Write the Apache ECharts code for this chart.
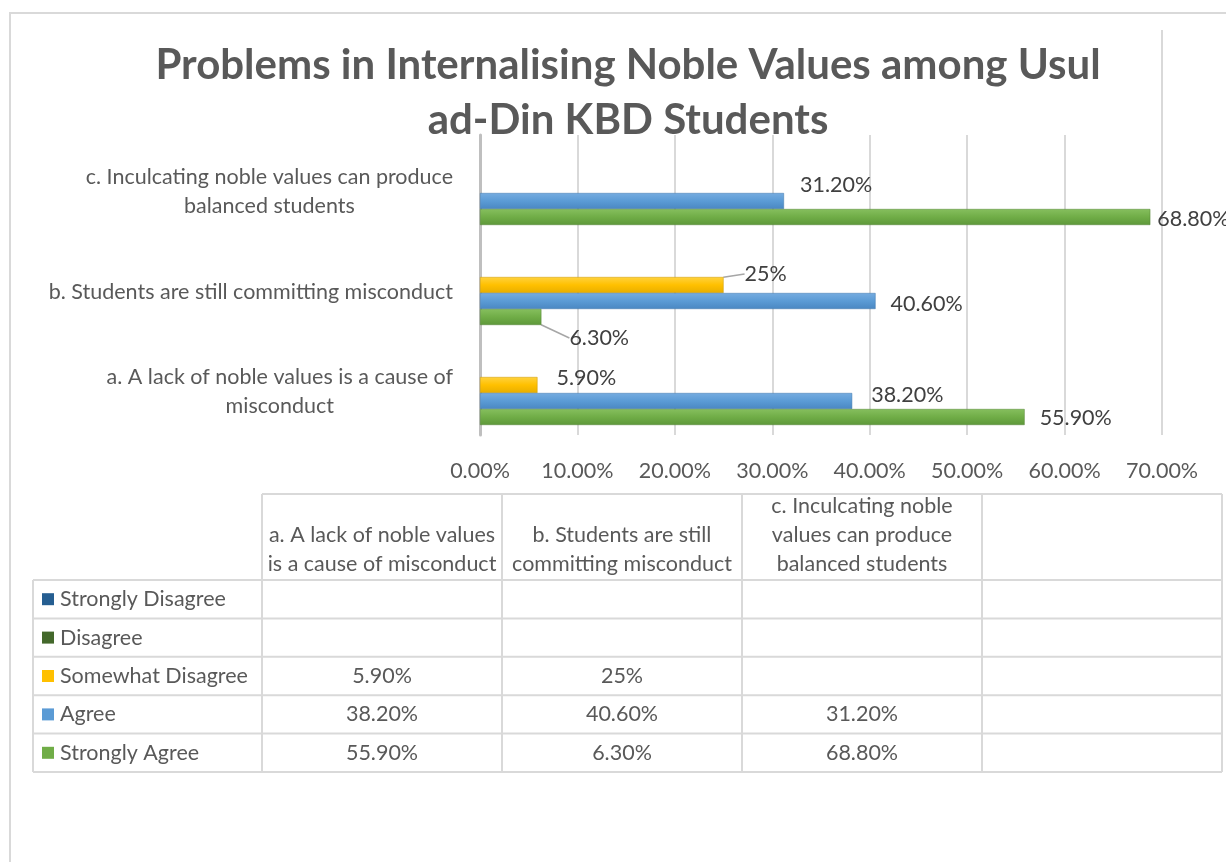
<!DOCTYPE html>
<html>
<head>
<meta charset="utf-8">
<script src="https://cdn.jsdelivr.net/npm/echarts@6/dist/echarts.min.js"></script>
<style>
  html, body { margin: 0; padding: 0; background: #fff; }
  #chart { width: 1226px; height: 862px; }
</style>
</head>
<body>
<div id="chart"></div>
<script>
// ---------- data ----------
const categories = [
  'a. A lack of noble values is a cause of misconduct',
  'b. Students are still committing misconduct',
  'c. Inculcating noble values can produce balanced students'
];
const axisCategoryLabels = [
  'a. A lack of noble values is a cause of\nmisconduct',
  'b. Students are still committing misconduct',
  'c. Inculcating noble values can produce\nbalanced students'
];
const tableHeaderLabels = [
  'a. A lack of noble values\nis a cause of misconduct',
  'b. Students are still\ncommitting misconduct',
  'c. Inculcating noble\nvalues can produce\nbalanced students'
];
const seriesNames = ['Strongly Disagree', 'Disagree', 'Somewhat Disagree', 'Agree', 'Strongly Agree'];
const stronglyDisagree = [null, null, null];
const disagree = [null, null, null];
const somewhatDisagree = [5.9, 25, null];
const agree = [38.2, 40.6, 31.2];
const stronglyAgree = [55.9, 6.3, 68.8];
const valueTicks = [0, 10, 20, 30, 40, 50, 60, 70];

// ---------- styling ----------
const FONT = 'Lato, "Open Sans", sans-serif';
const FS = 21.5;
const TXT = '#595959';
const LBL = '#404040';
const GRIDC = '#d9d9d9';
const seriesColors = ['#255e91', '#43682b', '#ffc000', '#5b9bd5', '#70ad47'];
const gradients = [
  ['#2f6ea8', '#255e91', '#1e4f7b'],
  ['#4f7a33', '#43682b', '#385823'],
  ['#ffd23f', '#ffc000', '#e8ae00'],
  ['#76ace0', '#5b9bd5', '#4a87c2'],
  ['#86bf5e', '#70ad47', '#5e983a']
];
const borderCols = ['#1b4870', '#33501f', '#c99700', '#3f77ab', '#528234'];
// label shifts (seriesIndex-dataIndex) -> [dx, dy], leader lines for some
const labelShift = {
  '2-0': [14, -7], '2-1': [16, -11],
  '3-0': [14, -6], '3-1': [10, 3], '3-2': [11, -16],
  '4-0': [10, 1], '4-1': [23, 21], '4-2': [2, 2]
};
const leaderItems = { '2-1': true, '4-1': true };

function fmtPct(v) {
  if (v === null || v === undefined) return '';
  return Number.isInteger(v) ? v + '%' : v.toFixed(2) + '%';
}

const allValues = [stronglyDisagree, disagree, somewhatDisagree, agree, stronglyAgree];

const series = allValues.map((vals, si) => ({
  name: seriesNames[si],
  type: 'bar',
  barGap: '0%',
  barCategoryGap: '20%',
  data: vals.map((v, di) => ({
    value: v,
    labelLine: { show: !!leaderItems[si + '-' + di] }
  })),
  itemStyle: {
    color: {
      type: 'linear', x: 0, y: 0, x2: 0, y2: 1,
      colorStops: [
        { offset: 0, color: gradients[si][0] },
        { offset: 0.5, color: gradients[si][1] },
        { offset: 1, color: gradients[si][2] }
      ]
    },
    borderColor: borderCols[si],
    borderWidth: 0.5
  },
  label: {
    show: true,
    position: 'right',
    distance: 5,
    fontFamily: FONT,
    fontSize: FS,
    color: LBL,
    formatter: (p) => fmtPct(p.value)
  },
  labelLine: {
    show: false,
    lineStyle: { color: '#a6a6a6', width: 1.5 }
  },
  labelLayout: (p) => {
    const s = labelShift[p.seriesIndex + '-' + p.dataIndex];
    return s ? { dx: s[0], dy: s[1] } : {};
  }
}));

// ---------- table (data table under the chart) ----------
const T = {
  left: 33, colX: [262, 502, 742, 982, 1222],
  headTop: 494, rowTop: 580, rowH: 38.4
};
const graphic = [];
// outer chart border
graphic.push({ type: 'rect', shape: { x: 10, y: 13, width: 1240, height: 870 },
  style: { fill: 'none', stroke: GRIDC, lineWidth: 2 }, silent: true, z: -1 });
// extended back-wall line at 70%
graphic.push({ type: 'line', shape: { x1: 1162, y1: 30, x2: 1162, y2: 135 },
  style: { stroke: GRIDC, lineWidth: 2 }, silent: true });

const nRows = seriesNames.length;
const tableBottom = T.rowTop + nRows * T.rowH;
function hline(x1, x2, y) {
  graphic.push({ type: 'line', shape: { x1, y1: y, x2, y2: y }, style: { stroke: GRIDC, lineWidth: 2 }, silent: true });
}
function vline(x, y1, y2) {
  graphic.push({ type: 'line', shape: { x1: x, y1, x2: x, y2 }, style: { stroke: GRIDC, lineWidth: 2 }, silent: true });
}
hline(T.colX[0], T.colX[4], T.headTop);
for (let r = 0; r <= nRows; r++) hline(T.left, T.colX[4], T.rowTop + r * T.rowH);
vline(T.left, T.rowTop, tableBottom);
T.colX.forEach(x => vline(x, T.headTop, tableBottom));

// header texts (bottom aligned)
tableHeaderLabels.forEach((lbl, ci) => {
  graphic.push({
    type: 'text',
    x: (T.colX[ci] + T.colX[ci + 1]) / 2,
    y: T.rowTop - 1,
    style: {
      text: lbl, fontFamily: FONT, fontSize: FS, fill: TXT,
      align: 'center', verticalAlign: 'bottom', lineHeight: 29
    },
    silent: true
  });
});
// rows
seriesNames.forEach((name, si) => {
  const cy = T.rowTop + si * T.rowH + T.rowH / 2;
  graphic.push({ type: 'rect', shape: { x: 42, y: cy - 6, width: 12, height: 12 },
    style: { fill: seriesColors[si] }, silent: true });
  graphic.push({ type: 'text', x: 60, y: cy,
    style: { text: name, fontFamily: FONT, fontSize: FS, fill: TXT, align: 'left', verticalAlign: 'middle' },
    silent: true });
  allValues[si].forEach((v, ci) => {
    graphic.push({ type: 'text', x: (T.colX[ci] + T.colX[ci + 1]) / 2, y: cy,
      style: { text: fmtPct(v), fontFamily: FONT, fontSize: FS, fill: TXT, align: 'center', verticalAlign: 'middle' },
      silent: true });
  });
});

const chart = echarts.init(document.getElementById('chart'), null, { renderer: 'canvas' });
chart.setOption({
  backgroundColor: '#ffffff',
  animation: false,
  title: {
    text: 'Problems in Internalising Noble Values among Usul\nad-Din KBD Students',
    left: 623, top: 33, textAlign: 'center',
    textStyle: { fontFamily: FONT, fontSize: 42, fontWeight: 'bold', color: TXT, lineHeight: 55 }
  },
  grid: { left: 480, right: 64, top: 135, bottom: 862 - 435, containLabel: false },
  xAxis: {
    type: 'value', min: valueTicks[0], max: valueTicks[valueTicks.length - 1], interval: 10,
    axisLine: { show: false }, axisTick: { show: false },
    splitLine: { show: true, lineStyle: { color: GRIDC, width: 2 } },
    axisLabel: { fontFamily: FONT, fontSize: FS, color: TXT, margin: 25, formatter: (v) => v.toFixed(2) + '%' }
  },
  yAxis: {
    type: 'category',
    data: categories,
    axisTick: { show: false },
    axisLine: { show: true, lineStyle: { color: '#bfbfbf', width: 3 } },
    axisLabel: {
      margin: 27, align: 'right', padding: [14, 0, 0, 0],
      formatter: (v, i) => axisCategoryLabels[i].split('\n').map(l => '{c|' + l + '}').join('\n'),
      rich: { c: { align: 'center', fontFamily: FONT, fontSize: FS, color: TXT, lineHeight: 29 } }
    }
  },
  series: series,
  graphic: graphic
});
</script>
</body>
</html>
